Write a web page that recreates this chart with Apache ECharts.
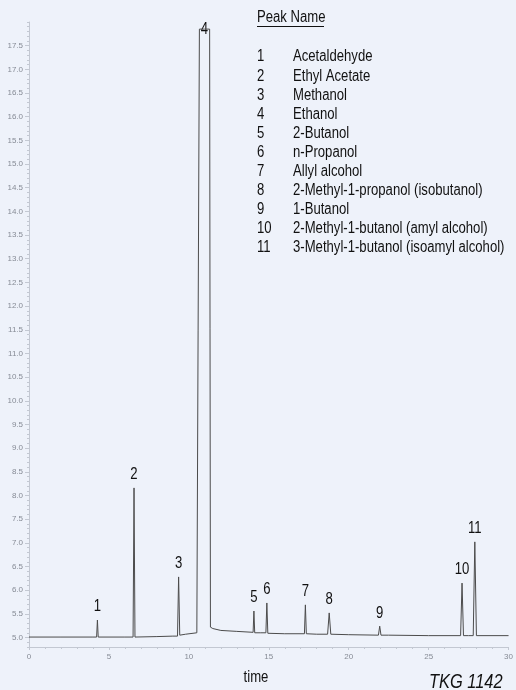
<!DOCTYPE html>
<html>
<head>
<meta charset="utf-8">
<script src="https://cdn.jsdelivr.net/npm/echarts@6/dist/echarts.min.js"></script>
<style>
  html, body { margin: 0; padding: 0; background: #eef2fa; }
  #chart { width: 516px; height: 690px; }
</style>
</head>
<body>
<div id="chart"></div>
<script>
// Detector baseline between peaks: retention time (min) and signal
const baseTime   = [0, 2, 4, 6, 8, 9.0, 9.8, 10.5, 11.5, 12.0, 13.0, 14.5, 16.0, 18.0, 20.0, 22.5, 25.0, 27.5, 30];
const baseSignal = [5.01, 5.01, 5.01, 5.01, 5.02, 5.03, 5.07, 5.10, 5.19, 5.15, 5.13, 5.10, 5.08, 5.07, 5.06, 5.05, 5.04, 5.04, 5.04];

// Peak table
const peakNumbers = ['1', '2', '3', '4', '5', '6', '7', '8', '9', '10', '11'];
const peakNames = [
  'Acetaldehyde',
  'Ethyl Acetate',
  'Methanol',
  'Ethanol',
  '2-Butanol',
  'n-Propanol',
  'Allyl alcohol',
  '2-Methyl-1-propanol (isobutanol)',
  '1-Butanol',
  '2-Methyl-1-butanol (amyl alcohol)',
  '3-Methyl-1-butanol (isoamyl alcohol)'
];
const peakTime       = [4.28, 6.57, 9.36, 10.98, 14.07, 14.88, 17.29, 18.78, 21.94, 27.09, 27.89];
const peakHeight     = [5.37, 8.16, 6.28, 17.85, 5.56, 5.73, 5.69, 5.52, 5.24, 6.15, 7.02];
const peakFootBefore = [5.01, 5.01, 5.03, 5.10, 5.11, 5.10, 5.08, 5.07, 5.05, 5.04, 5.04];
const peakFootAfter  = [5.01, 5.01, 5.05, 5.22, 5.10, 5.09, 5.08, 5.07, 5.05, 5.04, 5.04];
const peakHalfWidth  = [0.05, 0.06, 0.07, 0.05, 0.05, 0.06, 0.06, 0.10, 0.08, 0.09, 0.10];
const peakTopWidth   = [0, 0, 0, 0.64, 0, 0, 0, 0, 0, 0, 0];

// Axis tick labels
const timeTicks = [0, 5, 10, 15, 20, 25, 30];
const signalTicks = [5.0, 5.5, 6.0, 6.5, 7.0, 7.5, 8.0, 8.5, 9.0, 9.5, 10.0, 10.5, 11.0, 11.5,
                     12.0, 12.5, 13.0, 13.5, 14.0, 14.5, 15.0, 15.5, 16.0, 16.5, 17.0, 17.5];

const BG = '#eef2fa';
const AXIS = '#c3c8d2';
const TICK_TEXT = '#868b95';
const INK = '#111';
const FONT = "'Liberation Sans', Arial, sans-serif";
const CONDENSE = 0.82;   // narrow type: glyphs squeezed horizontally

// Assemble the chromatogram trace from the baseline and the peak outlines
const trace = baseTime.map((t, i) => [t, baseSignal[i]]);
peakTime.forEach((t, i) => {
  const half = peakTopWidth[i] / 2;
  const w = peakHalfWidth[i];
  trace.push([t - half - w, peakFootBefore[i]]);
  if (half > 0) {
    trace.push([t - half, peakHeight[i]]);
    trace.push([t, peakHeight[i]]);
    trace.push([t + half, peakHeight[i]]);
  } else {
    trace.push([t, peakHeight[i]]);
  }
  trace.push([t + half + w, peakFootAfter[i]]);
});
trace.sort((a, b) => a[0] - b[0]);

const apexData = peakTime.map((t, i) => [t, peakHeight[i], peakTopWidth[i] > 0 ? 1 : 0]);

function narrowText(x, y, text, size, extra) {
  return Object.assign({
    type: 'text', x: x, y: y, scaleX: CONDENSE,
    style: { text: text, fill: INK, font: size + 'px ' + FONT,
             align: 'left', textAlign: 'left', verticalAlign: 'middle', textVerticalAlign: 'middle' }
  }, extra || {});
}

// Legend block and tag
const legendTop = 57, legendStep = 19.1;
const graphics = [
  narrowText(257, 18, 'Peak Name', 16),
  { type: 'line', shape: { x1: 257, y1: 26.5, x2: 324, y2: 26.5 },
    style: { stroke: INK, lineWidth: 1 } },
  narrowText(256, 678, 'time', 16, { style: { text: 'time', fill: INK, font: '16px ' + FONT,
             align: 'center', textAlign: 'center', verticalAlign: 'middle', textVerticalAlign: 'middle' } }),
  narrowText(429, 682, 'TKG 1142', 20, { style: { text: 'TKG 1142', fill: INK, font: 'italic 20px ' + FONT,
             align: 'left', textAlign: 'left', verticalAlign: 'middle', textVerticalAlign: 'middle' } })
];
peakNumbers.forEach((n, i) => {
  const y = legendTop + i * legendStep;
  graphics.push(narrowText(257, y, n, 16));
  graphics.push(narrowText(293, y, peakNames[i], 16));
});

const chart = echarts.init(document.getElementById('chart'), null, { renderer: 'canvas' });
chart.setOption({
  backgroundColor: BG,
  animation: false,
  grid: { left: 29, right: 3, top: 22, bottom: 43, containLabel: false },
  xAxis: {
    type: 'value',
    min: 0, max: 30, interval: 5,
    axisLine: { show: true, lineStyle: { color: AXIS, width: 1 } },
    axisTick: { show: true, length: 3, lineStyle: { color: AXIS } },
    minorTick: { show: true, splitNumber: 5, length: 2, lineStyle: { color: AXIS } },
    axisLabel: { fontSize: 8, color: TICK_TEXT, margin: 6, fontFamily: FONT,
                 customValues: timeTicks },
    splitLine: { show: false }
  },
  yAxis: [
    {
      type: 'value',
      min: 4.8, max: 18, interval: 0.1,
      axisLine: { show: true, lineStyle: { color: AXIS, width: 1 } },
      axisTick: { show: true, length: 2, lineStyle: { color: AXIS } },
      axisLabel: { show: false },
      splitLine: { show: false }
    },
    {
      type: 'value',
      position: 'left',
      min: 4.8, max: 18,
      axisLine: { show: false },
      axisTick: { show: true, length: 4, lineStyle: { color: AXIS }, customValues: signalTicks },
      axisLabel: { fontSize: 8, color: TICK_TEXT, margin: 6, fontFamily: FONT,
                   customValues: signalTicks,
                   formatter: v => v.toFixed(1) },
      splitLine: { show: false }
    }
  ],
  series: [
    {
      type: 'line',
      name: 'signal',
      data: trace,
      showSymbol: false,
      symbol: 'none',
      clip: true,
      lineStyle: { color: '#4c4c4c', width: 1 }
    },
    {
      // peak numbers placed at each apex
      type: 'custom',
      name: 'peak labels',
      data: apexData,
      clip: false,
      silent: true,
      renderItem: (params, api) => {
        const p = api.coord([api.value(0), api.value(1)]);
        const offScale = api.value(2) === 1;
        return {
          type: 'text',
          x: p[0],
          y: offScale ? p[1] : p[1] - 5,
          scaleX: CONDENSE,
          style: {
            text: peakNumbers[params.dataIndex],
            fill: INK,
            font: '16px ' + FONT,
            align: 'center', textAlign: 'center',
            verticalAlign: offScale ? 'middle' : 'bottom',
            textVerticalAlign: offScale ? 'middle' : 'bottom',
            backgroundColor: offScale ? BG : 'transparent',
            padding: offScale ? [0, 1] : 0
          }
        };
      }
    }
  ],
  graphic: graphics
});
</script>
</body>
</html>
